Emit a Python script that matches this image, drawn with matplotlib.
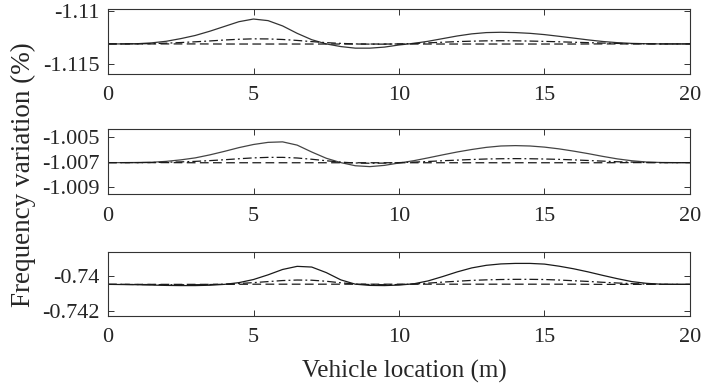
import matplotlib
matplotlib.use('Agg')
import matplotlib.pyplot as plt

# vehicle position along the span (m)
x_fine = [i * 0.5 for i in range(41)]
x_coarse = list(range(21))

# frequency variation (%) for the three modes, three cases each
mode1_solid = [-1.11310, -1.11310, -1.11308, -1.11300, -1.11285, -1.11260, -1.11230, -1.11190,
               -1.11145, -1.11100, -1.11075, -1.11090, -1.11140, -1.11210, -1.11270, -1.11310,
               -1.11335, -1.11350, -1.11350, -1.11340, -1.11320, -1.11305, -1.11285, -1.11260,
               -1.11235, -1.11215, -1.11203, -1.11200, -1.11203, -1.11210, -1.11222, -1.11238,
               -1.11255, -1.11272, -1.11287, -1.11298, -1.11305, -1.11308, -1.11310, -1.11310,
               -1.11310]
mode1_dashdot = [-1.11310, -1.11310, -1.11309, -1.11307, -1.11303, -1.11297, -1.11290, -1.11282,
                 -1.11273, -1.11266, -1.11262, -1.11263, -1.11268, -1.11277, -1.11288, -1.11298,
                 -1.11305, -1.11310, -1.11312, -1.11312, -1.11310, -1.11306, -1.11300, -1.11294,
                 -1.11288, -1.11284, -1.11281, -1.11280, -1.11281, -1.11283, -1.11286, -1.11290,
                 -1.11294, -1.11298, -1.11302, -1.11305, -1.11308, -1.11309, -1.11310, -1.11310,
                 -1.11310]
mode1_dashed = [-1.11310, -1.11310, -1.11310, -1.11310, -1.11311, -1.11311, -1.11311, -1.11311,
                -1.11311, -1.11311, -1.11311, -1.11311, -1.11311, -1.11311, -1.11311, -1.11311,
                -1.11311, -1.11310, -1.11310, -1.11310, -1.11310]

mode2_solid = [-1.00703, -1.00703, -1.00702, -1.00700, -1.00693, -1.00681, -1.00665, -1.00641,
               -1.00613, -1.00583, -1.00558, -1.00541, -1.00537, -1.00563, -1.00618, -1.00668,
               -1.00703, -1.00728, -1.00735, -1.00725, -1.00706, -1.00688, -1.00665, -1.00641,
               -1.00618, -1.00598, -1.00581, -1.00570, -1.00567, -1.00570, -1.00579, -1.00593,
               -1.00611, -1.00631, -1.00653, -1.00673, -1.00688, -1.00698, -1.00702, -1.00703,
               -1.00703]
mode2_dashdot = [-1.00703, -1.00703, -1.00703, -1.00702, -1.00700, -1.00697, -1.00693, -1.00687,
                 -1.00680, -1.00672, -1.00665, -1.00661, -1.00661, -1.00666, -1.00676, -1.00688,
                 -1.00699, -1.00706, -1.00708, -1.00707, -1.00703, -1.00699, -1.00694, -1.00688,
                 -1.00683, -1.00678, -1.00674, -1.00672, -1.00671, -1.00672, -1.00674, -1.00677,
                 -1.00681, -1.00686, -1.00691, -1.00696, -1.00699, -1.00702, -1.00703, -1.00703,
                 -1.00703]
mode2_dashed = [-1.00703, -1.00703, -1.00703, -1.00704, -1.00704, -1.00704, -1.00704, -1.00704,
                -1.00704, -1.00704, -1.00704, -1.00704, -1.00704, -1.00704, -1.00704, -1.00704,
                -1.00704, -1.00704, -1.00703, -1.00703, -1.00703]

mode3_solid = [-0.74048, -0.74049, -0.74050, -0.74052, -0.74054, -0.74055, -0.74055, -0.74053,
               -0.74048, -0.74038, -0.74020, -0.73993, -0.73962, -0.73944, -0.73948, -0.73980,
               -0.74022, -0.74047, -0.74054, -0.74055, -0.74052, -0.74045, -0.74028, -0.74003,
               -0.73976, -0.73953, -0.73938, -0.73930, -0.73927, -0.73927, -0.73931, -0.73943,
               -0.73958, -0.73976, -0.73996, -0.74015, -0.74032, -0.74042, -0.74047, -0.74048,
               -0.74048]
mode3_dashdot = [-0.74048, -0.74048, -0.74049, -0.74049, -0.74050, -0.74050, -0.74050, -0.74049,
                 -0.74047, -0.74043, -0.74038, -0.74032, -0.74026, -0.74023, -0.74024, -0.74030,
                 -0.74039, -0.74046, -0.74049, -0.74050, -0.74049, -0.74046, -0.74041, -0.74035,
                 -0.74030, -0.74025, -0.74022, -0.74020, -0.74019, -0.74019, -0.74020, -0.74023,
                 -0.74027, -0.74031, -0.74036, -0.74040, -0.74044, -0.74046, -0.74048, -0.74048,
                 -0.74048]
mode3_dashed = [-0.74048, -0.74048, -0.74048, -0.74048, -0.74048, -0.74047, -0.74047, -0.74047,
                -0.74047, -0.74047, -0.74047, -0.74047, -0.74047, -0.74047, -0.74047, -0.74047,
                -0.74047, -0.74048, -0.74048, -0.74048, -0.74048]

x_ticks = [0, 5, 10, 15, 20]
mode1_yticks = [-1.11, -1.115]
mode1_ylabels = ['-1.11', '-1.115']
mode2_yticks = [-1.005, -1.007, -1.009]
mode2_ylabels = ['-1.005', '-1.007', '-1.009']
mode3_yticks = [-0.74, -0.742]
mode3_ylabels = ['-0.74', '-0.742']

plt.rcParams['font.family'] = 'Liberation Serif'
plt.rcParams['font.size'] = 16

fig = plt.figure(figsize=(7.05, 3.87), dpi=100)

panels = [
    ([0.1532, 0.8088, 0.8255, 0.168], mode1_solid, mode1_dashdot, mode1_dashed,
     mode1_yticks, mode1_ylabels, (-1.11594, -1.10980), '#333333'),
    ([0.1532, 0.4987, 0.8255, 0.168], mode2_solid, mode2_dashdot, mode2_dashed,
     mode2_yticks, mode2_ylabels, (-1.00954, -1.00434), '#444444'),
    ([0.1532, 0.1842, 0.8255, 0.1638], mode3_solid, mode3_dashdot, mode3_dashed,
     mode3_yticks, mode3_ylabels, (-0.74229, -0.73863), '#1a1a1a'),
]

for rect, solid, dashdot, dashed, yt, yl, ylim, solid_col in panels:
    ax = fig.add_axes(rect)
    ax.plot(x_fine, solid, color=solid_col, lw=0.9, ls='-')
    ax.plot(x_fine, dashdot, color='#1a1a1a', lw=0.9, ls=(0, (7, 2.5, 1.5, 2.5)))
    ax.plot(x_coarse, dashed, color='#1a1a1a', lw=0.9, ls=(0, (7, 3.5)))
    ax.set_xlim(0, 20)
    ax.set_ylim(*ylim)
    ax.set_xticks(x_ticks)
    ax.set_xticklabels([str(t) for t in x_ticks])
    ax.set_yticks(yt)
    ax.set_yticklabels(yl)
    ax.tick_params(direction='in', top=True, right=True, length=4, width=0.7,
                   color='#333333', labelsize=16, labelcolor='#262626')
    ax.tick_params(axis='x', pad=9)
    ax.tick_params(axis='y', pad=6)
    for sp in ax.spines.values():
        sp.set_linewidth(0.8)
        sp.set_color('#333333')

fig.text(0.033, 0.55, 'Frequency variation (%)', rotation=90, ha='center', va='center',
         fontsize=19.5, color='#262626')
fig.text(0.574, 0.041, 'Vehicle location (m)', ha='center', va='center', fontsize=18,
         color='#262626')

fig.savefig('out.png', dpi=100)
